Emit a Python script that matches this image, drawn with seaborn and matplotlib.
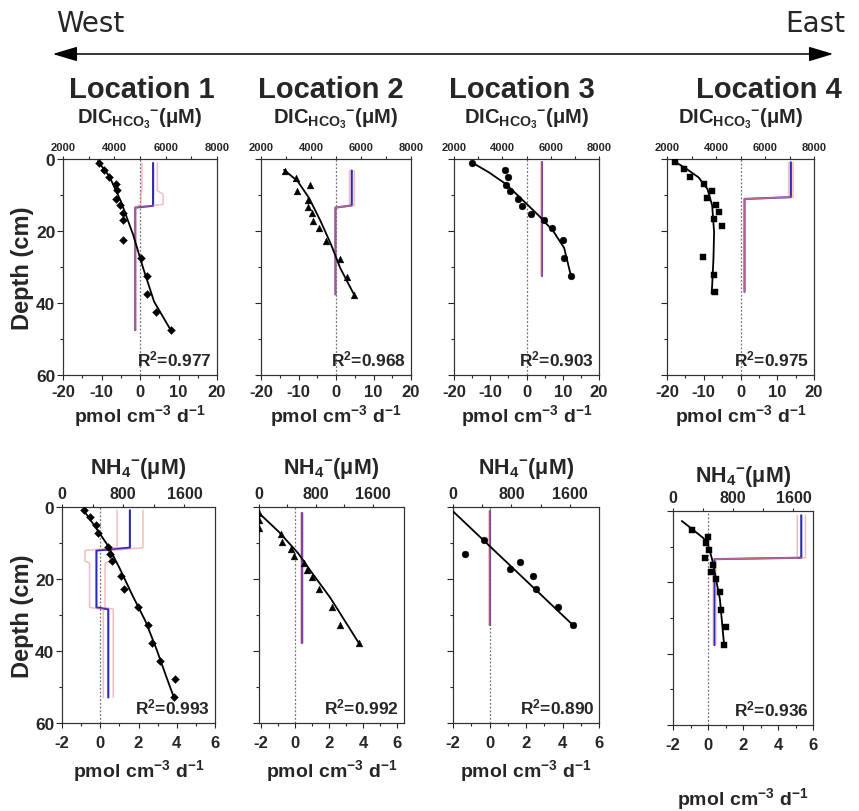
import matplotlib
matplotlib.use('Agg')
import matplotlib.pyplot as plt
import seaborn as sns
from matplotlib.patches import FancyArrowPatch
from matplotlib.ticker import MultipleLocator, FixedLocator
from matplotlib import font_manager

# ---------------- data ----------------
# DIC (HCO3-) profiles, concentration in uM vs depth in cm
dic1_depth = [1.1, 3.0, 5.1, 7.0, 8.5, 11.0, 12.9, 15.0, 16.9, 22.4, 27.6, 32.5, 37.6, 42.4, 47.5]
dic1_conc = [3420, 3610, 3810, 4070, 4090, 4070, 4220, 4320, 4320, 4320, 5030, 5290, 5290, 5610, 6190]
dic1_fit_depth = [0.6, 4.8, 11.8, 21.1, 30.3, 39.6, 47.5]
dic1_fit_conc = [3355, 3806, 4258, 4735, 5123, 5548, 6194]

dic2_depth = [3.2, 5.3, 9.0, 7.3, 11.4, 13.2, 15.0, 17.2, 19.2, 22.7, 27.7, 32.7, 37.8]
dic2_conc = [2970, 3380, 3430, 3970, 3890, 3860, 4030, 4060, 4320, 4610, 5140, 5430, 5730]
dic2_fit_depth = [3.0, 6.2, 10.9, 17.3, 23.8, 30.3, 37.8]
dic2_fit_conc = [2922, 3471, 3928, 4386, 4804, 5170, 5732]

dic3_depth = [1.1, 3.0, 5.1, 7.2, 9.0, 11.0, 13.1, 15.2, 17.0, 19.1, 22.6, 27.4, 32.6]
dic3_conc = [2750, 4130, 4220, 4160, 4330, 4660, 4830, 5200, 5710, 6070, 6490, 6570, 6840]
dic3_fit_depth = [0.9, 3.7, 7.0, 11.6, 15.8, 20.0, 24.7, 32.6]
dic3_fit_conc = [2727, 3442, 4156, 4870, 5519, 6104, 6558, 6844]

dic4_depth = [0.9, 2.8, 4.9, 6.9, 8.8, 10.9, 12.9, 14.8, 16.8, 18.7, 27.2, 32.1, 36.9]
dic4_conc = [2310, 2680, 2940, 3520, 3820, 3650, 4000, 4140, 3910, 4260, 3460, 3900, 3940]
dic4_fit_depth = [0.6, 2.6, 5.1, 8.3, 12.9, 20.3, 27.7, 35.1, 37.4]
dic4_fit_conc = [2286, 2766, 3286, 3649, 3844, 3922, 3896, 3844, 3818]

# DIC production rates, pmol cm-3 d-1 (model with envelope)
dic1_rate_depth = [1.1, 13.0, 13.5, 47.5]
dic1_rate = [3.4, 3.4, -1.25, -1.25]
dic1_env_depth = [1.1, 8.8, 9.8, 12.6, 13.5, 47.5]
dic1_env_lo = [0.5, 0.5, 0.2, 0.2, -1.4, -1.4]
dic1_env_hi = [4.5, 4.5, 6.0, 6.0, -1.1, -1.1]

dic2_rate_depth = [3.2, 12.9, 13.5, 37.6]
dic2_rate = [4.2, 4.2, -0.15, -0.15]
dic2_env_depth = [3.2, 12.9, 13.5, 37.6]
dic2_env_lo = [3.6, 3.6, -0.3, -0.3]
dic2_env_hi = [4.85, 4.85, 0.0, 0.0]

dic3_rate_depth = [0.9, 32.6]
dic3_rate = [4.15, 4.15]
dic3_env_depth = [0.9, 32.6]
dic3_env_lo = [4.1, 4.1]
dic3_env_hi = [4.2, 4.2]

dic4_rate_depth = [0.9, 10.6, 11.1, 36.9]
dic4_rate = [13.7, 13.7, 1.1, 1.1]
dic4_env_depth = [0.9, 10.6, 11.1, 36.9]
dic4_env_lo = [13.1, 13.1, 1.0, 1.0]
dic4_env_hi = [14.3, 14.3, 1.2, 1.2]

# NH4 profiles
nh1_depth = [0.9, 2.8, 4.9, 7.1, 11.2, 13.0, 15.1, 19.1, 22.7, 27.9, 32.8, 37.8, 42.8, 47.9, 52.9]
nh1_conc = [288, 372, 448, 469, 605, 626, 660, 774, 816, 998, 1125, 1175, 1281, 1480, 1463]
nh1_fit_depth = [0.8, 6.2, 10.9, 17.0, 24.6, 31.7, 39.7, 47.3, 52.9]
nh1_fit_conc = [279, 457, 605, 753, 922, 1091, 1239, 1366, 1463]

nh2_depth = [1.7, 3.7, 5.7, 7.5, 9.6, 11.6, 13.6, 15.6, 17.6, 19.5, 22.8, 27.9, 32.8, 37.9]
nh2_conc = [0, 0, 0, 311, 329, 457, 494, 631, 677, 745, 846, 1029, 1143, 1408]
nh2_fit_depth = [1.7, 6.8, 12.8, 17.9, 25.3, 37.9]
nh2_fit_conc = [0, 274, 549, 731, 1006, 1408]

nh3_depth = [13.1, 9.2, 17.2, 15.3, 19.3, 22.8, 27.7, 32.8]
nh3_conc = [165, 426, 774, 922, 1096, 1143, 1435, 1643]
nh3_fit_depth = [1.2, 32.8]
nh3_fit_conc = [0, 1643]

nh4_depth = [5.3, 7.2, 9.0, 11.0, 13.1, 15.2, 17.1, 19.1, 22.7, 27.7, 32.6, 37.6]
nh4_conc = [259, 467, 441, 476, 428, 536, 506, 571, 623, 636, 700, 679]
nh4_fit_depth = [2.8, 5.3, 7.5, 9.3, 13.5, 19.1, 24.7, 37.6]
nh4_fit_conc = [117, 268, 398, 463, 519, 571, 623, 679]

# NH4 production rates
nh1_rate_depth = [0.9, 11.3, 12.1, 27.9, 28.4, 52.9]
nh1_rate = [1.55, 1.55, -0.2, -0.2, 0.42, 0.42]
nh1_env_depth = [0.9, 11.3, 12.1, 15.0, 15.6, 27.9, 28.4, 52.9]
nh1_env_lo = [0.88, 0.88, -0.8, -0.8, -0.56, -0.56, 0.16, 0.16]
nh1_env_hi = [2.23, 2.23, 0.5, 0.5, 0.25, 0.25, 0.68, 0.68]

nh2_rate_depth = [1.7, 37.9]
nh2_rate = [0.42, 0.42]
nh2_env_depth = [1.7, 37.9]
nh2_env_lo = [0.38, 0.38]
nh2_env_hi = [0.46, 0.46]

nh3_rate_depth = [1.2, 32.8]
nh3_rate = [0.0, 0.0]
nh3_env_depth = [1.2, 32.8]
nh3_env_lo = [-0.03, -0.03]
nh3_env_hi = [0.03, 0.03]

nh4_rate_depth = [1.2, 13.1, 13.5, 37.6]
nh4_rate = [5.33, 5.33, 0.37, 0.37]
nh4_env_depth = [1.2, 13.1, 13.5, 37.6]
nh4_env_lo = [5.1, 5.1, 0.3, 0.3]
nh4_env_hi = [5.57, 5.57, 0.45, 0.45]

r2_values = ['0.977', '0.968', '0.903', '0.975', '0.993', '0.992', '0.890', '0.936']
locations = ['Location 1', 'Location 2', 'Location 3', 'Location 4']

# ---------------- style ----------------
sns.set_style('ticks')
plt.rcParams['font.family'] = ['Liberation Sans', 'DejaVu Sans']
plt.rcParams['font.weight'] = 'bold'
plt.rcParams['mathtext.fontset'] = 'custom'
plt.rcParams['mathtext.rm'] = 'Liberation Sans'
plt.rcParams['mathtext.bf'] = 'Liberation Sans:bold'
plt.rcParams['mathtext.it'] = 'Liberation Sans:italic'
plt.rcParams['axes.unicode_minus'] = False
plt.rcParams['axes.linewidth'] = 0.8
plt.rcParams['axes.edgecolor'] = '#333333'

W, H = 859, 812
fig = plt.figure(figsize=(W / 100, H / 100), dpi=100)


def fx(px):
    return px / W


def fy(py):
    return 1 - py / H


BLUE = '#2a2ab8'
PINK = '#ee7d7d'

dic_title = r'$\mathbf{DIC_{HCO_3}{}^{-}(μM)}$'
nh_title = r'$\mathbf{NH_4{}^{-}(μM)}$'
rate_label = r'$\mathbf{pmol\ cm^{-3}\ d^{-1}}$'

panels = [
    # box (l, t, r, b) in pixels, title y, xlabel y
    dict(box=(63, 160, 217, 376), ty=119, ly=416, rlim=(-20, 20), clim=(2000, 8000), kind='dic',
         marker='D', ms=16, d=dic1_depth, c=dic1_conc, fd=dic1_fit_depth, fc=dic1_fit_conc,
         rd=dic1_rate_depth, r=dic1_rate, ed=dic1_env_depth, lo=dic1_env_lo, hi=dic1_env_hi),
    dict(box=(261, 160, 411, 376), ty=119, ly=416, rlim=(-20, 20), clim=(2000, 8000), kind='dic',
         marker='^', ms=24, d=dic2_depth, c=dic2_conc, fd=dic2_fit_depth, fc=dic2_fit_conc,
         rd=dic2_rate_depth, r=dic2_rate, ed=dic2_env_depth, lo=dic2_env_lo, hi=dic2_env_hi),
    dict(box=(454, 160, 599, 376), ty=119, ly=416, rlim=(-20, 20), clim=(2000, 8000), kind='dic',
         marker='o', ms=24, d=dic3_depth, c=dic3_conc, fd=dic3_fit_depth, fc=dic3_fit_conc,
         rd=dic3_rate_depth, r=dic3_rate, ed=dic3_env_depth, lo=dic3_env_lo, hi=dic3_env_hi),
    dict(box=(667, 160, 814, 376), ty=119, ly=416, rlim=(-20, 20), clim=(2000, 8000), kind='dic',
         marker='s', ms=24, d=dic4_depth, c=dic4_conc, fd=dic4_fit_depth, fc=dic4_fit_conc,
         rd=dic4_rate_depth, r=dic4_rate, ed=dic4_env_depth, lo=dic4_env_lo, hi=dic4_env_hi),
    dict(box=(62, 508, 215, 724), ty=469, ly=771, rlim=(-2, 6), clim=(0, 2000), kind='nh',
         marker='D', ms=16, d=nh1_depth, c=nh1_conc, fd=nh1_fit_depth, fc=nh1_fit_conc,
         rd=nh1_rate_depth, r=nh1_rate, ed=nh1_env_depth, lo=nh1_env_lo, hi=nh1_env_hi),
    dict(box=(259, 508, 404, 724), ty=469, ly=771, rlim=(-2.1, 6.4), clim=(0, 2040), kind='nh',
         marker='^', ms=24, d=nh2_depth, c=nh2_conc, fd=nh2_fit_depth, fc=nh2_fit_conc,
         rd=nh2_rate_depth, r=nh2_rate, ed=nh2_env_depth, lo=nh2_env_lo, hi=nh2_env_hi),
    dict(box=(453, 508, 599, 724), ty=469, ly=771, rlim=(-2, 6), clim=(0, 2000), kind='nh',
         marker='o', ms=24, d=nh3_depth, c=nh3_conc, fd=nh3_fit_depth, fc=nh3_fit_conc,
         rd=nh3_rate_depth, r=nh3_rate, ed=nh3_env_depth, lo=nh3_env_lo, hi=nh3_env_hi),
    dict(box=(673, 512, 813, 726), ty=477, ly=799, rlim=(-2, 6), clim=(0, 1860), kind='nh',
         marker='s', ms=24, d=nh4_depth, c=nh4_conc, fd=nh4_fit_depth, fc=nh4_fit_conc,
         rd=nh4_rate_depth, r=nh4_rate, ed=nh4_env_depth, lo=nh4_env_lo, hi=nh4_env_hi),
]

for i, p in enumerate(panels):
    l, t, r, b = p['box']
    ax = fig.add_axes([fx(l), fy(b), fx(r) - fx(l), (b - t) / H])
    ax2 = ax.twiny()

    ax.axvline(0, color='0.45', ls=(0, (1.5, 1.5)), lw=0.9, zorder=1)
    for env in (p['lo'], p['hi']):
        sns.lineplot(x=env, y=p['ed'], sort=False, estimator=None, color=PINK, lw=1.1,
                     alpha=0.5, ax=ax, zorder=4)
    sns.lineplot(x=p['r'], y=p['rd'], sort=False, estimator=None, color=BLUE, lw=1.5,
                 ax=ax, zorder=3)

    sns.lineplot(x=p['fc'], y=p['fd'], sort=False, estimator=None, color='black', lw=1.3,
                 ax=ax2, zorder=3)
    sns.scatterplot(x=p['c'], y=p['d'], marker=p['marker'], s=p['ms'], color='black',
                    edgecolor='black', linewidth=0.3, ax=ax2, zorder=4)

    ax.set_xlim(*p['rlim'])
    ax2.set_xlim(*p['clim'])
    ax.set_ylim(60, 0)
    ax.set_xlabel('')
    ax.set_ylabel('')
    ax2.set_xlabel('')
    ax2.set_ylabel('')

    if p['kind'] == 'dic':
        ax.xaxis.set_major_locator(FixedLocator([-20, -10, 0, 10, 20]))
        ax.xaxis.set_minor_locator(FixedLocator([-15, -5, 5, 15]))
        ax2.xaxis.set_major_locator(FixedLocator([2000, 4000, 6000, 8000]))
        ax2.xaxis.set_minor_locator(FixedLocator([3000, 5000, 7000]))
        top_fs, top_pad, bot_pad = 8, 2.5, 3
    else:
        ax.xaxis.set_major_locator(FixedLocator([-2, 0, 2, 4, 6]))
        ax.xaxis.set_minor_locator(FixedLocator([-1, 1, 3, 5]))
        ax2.xaxis.set_major_locator(FixedLocator([0, 800, 1600]))
        ax2.xaxis.set_minor_locator(FixedLocator([400, 1200]))
        top_fs, top_pad, bot_pad = 11.5, 1.5, 5
    ax.yaxis.set_major_locator(MultipleLocator(20))
    ax.yaxis.set_minor_locator(MultipleLocator(10))

    ax.tick_params(axis='x', which='major', direction='out', length=3.5, width=0.8,
                   labelsize=12, pad=bot_pad)
    ax.tick_params(axis='x', which='minor', direction='out', length=2.5, width=0.8)
    ax.tick_params(axis='y', which='major', direction='out', length=4, width=0.8,
                   labelsize=12.5, pad=1.5)
    ax.tick_params(axis='y', which='minor', direction='out', length=2.5, width=0.8)
    ax2.tick_params(axis='x', which='major', direction='out', length=2.5, width=0.8,
                    labelsize=top_fs, pad=top_pad)
    ax2.tick_params(axis='x', which='minor', direction='out', length=2, width=0.8)
    if i % 4 != 0:
        ax.tick_params(axis='y', labelleft=False)

    for s in ax.spines.values():
        s.set_visible(True)
    for s in ax2.spines.values():
        s.set_visible(True)

    ax.text(0.968, 0.03, r'$\mathbf{R^2}$=' + r2_values[i], transform=ax.transAxes,
            ha='right', va='bottom', fontsize=12.5, fontweight='bold')

    cx = (l + r) / 2
    title = dic_title if p['kind'] == 'dic' else nh_title
    fig.text(fx(cx), fy(p['ty']), title, ha='center', va='center',
             fontsize=14.5 if p['kind'] == 'dic' else 15.5)
    fig.text(fx(cx), fy(p['ly']), rate_label, ha='center', va='center', fontsize=14)

# depth labels
for yc in ((160 + 376) / 2, (508 + 724) / 2):
    fig.text(fx(23), fy(yc), 'Depth (cm)', rotation=90, ha='center', va='center',
             fontsize=17, fontweight='bold')

# header: direction arrow and site names
fig.text(fx(90), fy(24), 'West', ha='center', va='center', fontsize=20,
         fontweight='normal', family='DejaVu Sans')
fig.text(fx(815), fy(24), 'East', ha='center', va='center', fontsize=20,
         fontweight='normal', family='DejaVu Sans')
arrow = FancyArrowPatch((fx(50), fy(55)), (fx(836), fy(55)), transform=fig.transFigure,
                        arrowstyle='<|-|>,head_length=1.0,head_width=0.3', mutation_scale=15,
                        color='black', lw=1.1)
fig.patches.append(arrow)

names = {f.name for f in font_manager.fontManager.ttflist}
if 'Liberation Sans Narrow' in names:
    loc_family, loc_size = ['Liberation Sans Narrow', 'Liberation Sans'], 25
else:
    loc_family, loc_size = ['Liberation Sans', 'DejaVu Sans'], 21
for name, cx in zip(locations, [142, 331, 522, 769]):
    fig.text(fx(cx), fy(90), name, ha='center', va='center', fontsize=loc_size,
             fontweight='bold', family=loc_family)

fig.savefig('out.png', dpi=100)
